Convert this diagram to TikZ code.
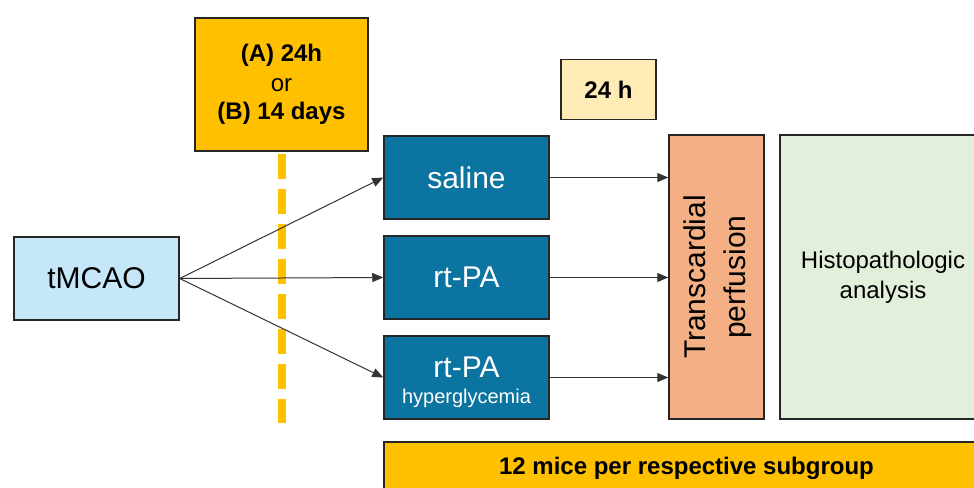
\documentclass[tikz,border=0pt]{standalone}
\usepackage{fontspec}
\setmainfont{Liberation Sans}
\usetikzlibrary{arrows.meta}
\definecolor{cOrange}{HTML}{FFC000}
\definecolor{cBlue}{HTML}{0B74A0}
\definecolor{cLightBlue}{HTML}{C6E7F8}
\definecolor{cYellow}{HTML}{FFEBB6}
\definecolor{cSalmon}{HTML}{F4B084}
\definecolor{cGreen}{HTML}{E2EFDA}
\definecolor{cBorder}{HTML}{262626}
\definecolor{cLine}{HTML}{333333}
\tikzset{
  box/.style={draw=cBorder, line width=1.5pt, rectangle, inner sep=0pt, align=center},
  bluebox/.style={box, fill=cBlue, text=white, minimum width=165pt, minimum height=83pt, font=\fontsize{30}{32}\selectfont},
  arr/.style={draw=cLine, line width=1pt, -{Triangle[length=11pt,width=9pt]}},
}
\begin{document}
\begin{tikzpicture}[x=1pt,y=-1pt]
\useasboundingbox (0,0) rectangle (974,487);
% boxes
\node[box, fill=cLightBlue, minimum width=165pt, minimum height=83pt, font=\fontsize{30}{32}\selectfont] (tmcao) at (96.5,278.5) {tMCAO};
\node[box, fill=cOrange, minimum width=173pt, minimum height=133pt] (tbox) at (281.5,84.5) {};
\node[font=\fontsize{24}{28}\selectfont\bfseries] (ta) at (281.5,55) {(A) 24h};
\node[font=\fontsize{24}{28}\selectfont] (tor) at (281.5,85) {or};
\node[font=\fontsize{24}{28}\selectfont\bfseries] (tb) at (281.5,113) {(B) 14 days};
\node[bluebox] (saline) at (466.5,177.5) {saline};
\node[bluebox] (rtpa) at (466.5,277.5) {rt-PA};
\node[bluebox] (rtpah) at (466.5,377.5) {};
\node[text=white, font=\fontsize{30}{32}\selectfont] (rtpahA) at (466.5,367) {rt-PA};
\node[text=white, font=\fontsize{20}{22}\selectfont] (rtpahB) at (466.5,398) {hyperglycemia};
\node[box, fill=cYellow, minimum width=95pt, minimum height=60pt, font=\fontsize{24}{28}\selectfont\bfseries] (h24) at (608.5,89.5) {24 h};
\node[box, fill=cSalmon, minimum width=95pt, minimum height=284pt] (perf) at (716.5,277) {};
\node[rotate=90, align=center, font=\fontsize{30}{40}\selectfont] (perft) at (718,277) {Transcardial\\perfusion};
\node[box, fill=cGreen, minimum width=206pt, minimum height=284pt, align=center, font=\fontsize{24}{30}\selectfont] (histo) at (883,277) {Histopathologic\\analysis};
\node[box, fill=cOrange, minimum width=605pt, minimum height=52pt, font=\fontsize{24}{28}\selectfont\bfseries] (mice) at (686.5,468) {12 mice per respective subgroup};
% dashed line
\coordinate (dend) at (281.5,423);
\draw[cOrange, line width=8pt, dash pattern=on 25pt off 10pt] ([yshift=-2pt]tbox.south) -- (dend);
% arrows
\draw[arr] (tmcao.east) -- (saline.west);
\draw[arr] (tmcao.east) -- (rtpa.west);
\draw[arr] (tmcao.east) -- (rtpah.west);
\draw[arr] (saline.east) -- (saline.east -| perf.west);
\draw[arr] (rtpa.east) -- (rtpa.east -| perf.west);
\draw[arr] (rtpah.east) -- (rtpah.east -| perf.west);
\end{tikzpicture}
\end{document}
